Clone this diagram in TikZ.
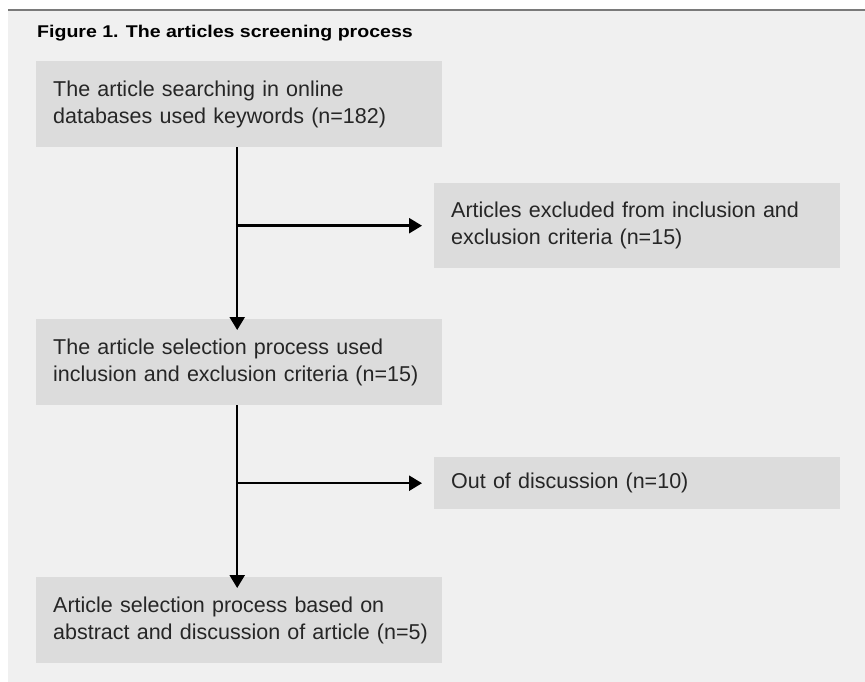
\documentclass[tikz,border=0pt]{standalone}
\usepackage{fontspec}
\setmainfont{Liberation Sans}
\usetikzlibrary{arrows.meta}
\definecolor{bgcol}{HTML}{F0F0F0}
\definecolor{boxcol}{HTML}{DCDCDC}
\definecolor{rulecol}{HTML}{7A7A7A}
\definecolor{txtcol}{HTML}{262626}
\tikzset{
  flowbox/.style={fill=boxcol, draw=none, minimum width=406pt, text width=372pt,
    inner xsep=17pt, inner ysep=0pt, align=left, anchor=north west,
    font=\fontsize{21.5}{27}\selectfont, text=txtcol},
  arr/.style={line width=2.5pt, draw=black, -{Triangle[length=13pt,width=15pt]}}
}
\begin{document}
\begin{tikzpicture}[x=1pt,y=-1pt]
\useasboundingbox (0,0) rectangle (865,682);
\fill[bgcol] (8,11) rectangle (865,682);
\draw[rulecol, line width=1.5pt] (8,10) -- (865,10);
\node[anchor=west, font=\bfseries\fontsize{17}{20}\selectfont, inner sep=0pt] (title) at (37,33) {\scalebox{1.15}[1]{Figure 1. The articles screening process}};
\node[flowbox, minimum height=86pt] (b1) at (36,61) {\mbox{The article searching in online}\\\mbox{databases used keywords (n=182)}};
\node[flowbox, minimum height=85pt] (b2) at (434,183) {\mbox{Articles excluded from inclusion and}\\\mbox{exclusion criteria (n=15)}};
\node[flowbox, minimum height=86pt] (b3) at (36,319) {\mbox{The article selection process used}\\\mbox{inclusion and exclusion criteria (n=15)}};
\node[flowbox, minimum height=52pt] (b4) at (434,457) {Out of discussion (n=10)};
\node[flowbox, minimum height=86pt] (b5) at (36,577) {\mbox{Article selection process based on}\\\mbox{abstract and discussion of article (n=5)}};
\coordinate (s1) at ([xshift=-2pt]b1.south);
\coordinate (c1) at (s1 |- b2.west);
\coordinate (s3) at ([xshift=-2pt]b3.south);
\coordinate (c2) at (s3 |- b4.west);
\draw[arr] (s1) -- ([xshift=-2pt,yshift=-11pt]b3.north);
\draw[arr] ([xshift=-1.25pt]c1) -- ([xshift=-12pt]b2.west);
\draw[arr] (s3) -- ([xshift=-2pt,yshift=-11pt]b5.north);
\draw[arr] ([xshift=-1.25pt]c2) -- ([xshift=-12pt]b4.west);
\end{tikzpicture}
\end{document}
